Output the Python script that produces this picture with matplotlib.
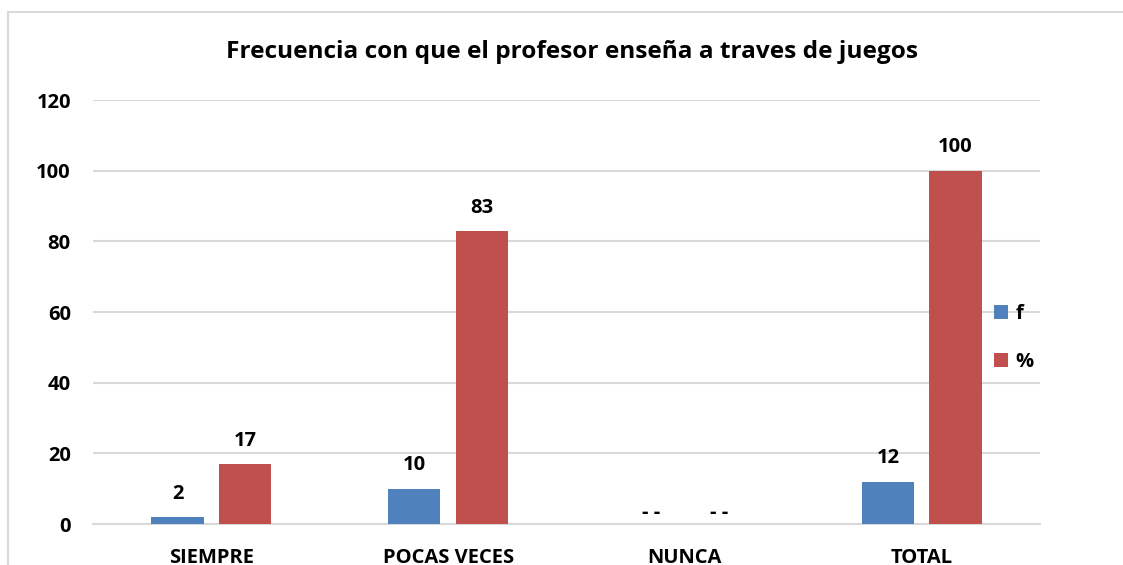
import matplotlib
matplotlib.use("Agg")
import numpy as np
import matplotlib.pyplot as plt
import matplotlib.patches as mpatches

plt.rcParams['font.family'] = ['Open Sans', 'DejaVu Sans']
plt.rcParams['font.weight'] = 'bold'

categories = ['SIEMPRE', 'POCAS VECES', 'NUNCA', 'TOTAL']
f_values = [2, 10, 0, 12]
pct_values = [17, 83, 0, 100]
f_labels = ['2', '10', '- -', '12']
pct_labels = ['17', '83', '- -', '100']
yticks = [0, 20, 40, 60, 80, 100, 120]

blue = '#4F81BD'
red = '#C0504D'
grid_col = '#D9D9D9'

fig = plt.figure(figsize=(11.23, 5.65), dpi=100)
ax = fig.add_axes([93 / 1123, 41 / 565, (1040 - 93) / 1123, 424 / 565])

x = np.arange(len(categories))
w = 0.22
off = 0.143
b1 = ax.bar(x - off, f_values, w, color=blue, label='f', zorder=3)
b2 = ax.bar(x + off, pct_values, w, color=red, label='%', zorder=3)

for bars, labs in [(b1, f_labels), (b2, pct_labels)]:
    for r, lab in zip(bars, labs):
        # the "- -" labels sit lower, close to the baseline
        dy = 1 if lab == '- -' else 9.5
        ax.annotate(lab, (r.get_x() + r.get_width() / 2, r.get_height()),
                    xytext=(0, dy), textcoords='offset points',
                    ha='center', va='bottom', fontsize=14.5, fontweight='bold')

ax.set_xlim(-0.5, 3.5)
ax.set_ylim(0, 120)
ax.set_yticks(yticks)
ax.set_xticks(x)
ax.set_xticklabels(categories)
ax.tick_params(axis='both', length=0, labelsize=14.5)
ax.tick_params(axis='x', pad=17)
ax.tick_params(axis='y', pad=16)
for lab in ax.get_xticklabels() + ax.get_yticklabels():
    lab.set_fontweight('bold')

ax.grid(axis='y', color=grid_col, lw=1.5, zorder=0)
for s in ['top', 'right', 'left']:
    ax.spines[s].set_visible(False)
ax.spines['bottom'].set_color(grid_col)
ax.spines['bottom'].set_linewidth(1.5)

fig.text(572 / 1123, 1 - 52 / 565, 'Frecuencia con que el profesor enseña a traves de juegos',
         ha='center', va='center', fontsize=17.6, fontweight='bold')

fig.legend(handles=[b1, b2], loc='center left', bbox_to_anchor=(976 / 1123, 1 - 338 / 565),
           frameon=False, handlelength=0.7, handleheight=0.7, handletextpad=0.35,
           labelspacing=1.4, prop={'size': 14.5, 'weight': 'bold'})

frame = mpatches.Rectangle((8 / 1123, -0.2), 1.2, 1.2 - 12 / 565, transform=fig.transFigure,
                           fill=False, edgecolor=grid_col, lw=1.5)
fig.patches.append(frame)

fig.savefig('out.png', dpi=100)
